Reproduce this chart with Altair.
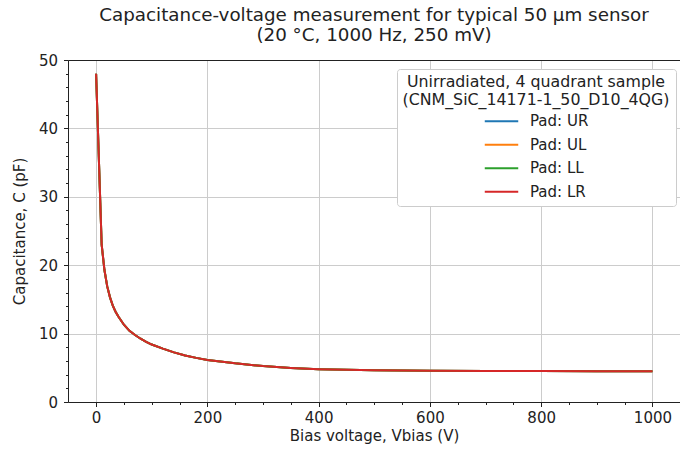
import altair as alt
import pandas as pd

# ---------------- data ----------------
voltage = [0, 10, 15, 20, 25, 30, 35, 40, 50, 60, 70, 80, 90, 100, 120, 140,
           160, 180, 200, 250, 300, 350, 400, 450, 500, 600, 700, 800, 900, 1000]
cap_ur = [48.0, 23.0, 19.3, 16.9, 15.3, 14.1, 13.2, 12.5, 11.3, 10.4, 9.8, 9.25,
          8.8, 8.4, 7.8, 7.25, 6.8, 6.45, 6.15, 5.65, 5.25, 4.98, 4.8, 4.7,
          4.64, 4.58, 4.55, 4.53, 4.5, 4.48]
cap_ul = [48.0, 23.0, 19.3, 16.9, 15.3, 14.1, 13.2, 12.5, 11.3, 10.4, 9.8, 9.25,
          8.8, 8.4, 7.8, 7.25, 6.8, 6.45, 6.15, 5.65, 5.25, 4.98, 4.8, 4.7,
          4.64, 4.58, 4.55, 4.53, 4.5, 4.48]
cap_ll = [48.0, 23.0, 19.3, 16.9, 15.3, 14.1, 13.2, 12.5, 11.3, 10.4, 9.8, 9.25,
          8.8, 8.4, 7.8, 7.25, 6.8, 6.45, 6.15, 5.65, 5.25, 4.98, 4.8, 4.7,
          4.64, 4.58, 4.55, 4.53, 4.5, 4.48]
cap_lr = [48.0, 23.0, 19.3, 16.9, 15.3, 14.1, 13.2, 12.5, 11.3, 10.4, 9.8, 9.25,
          8.8, 8.4, 7.8, 7.25, 6.8, 6.45, 6.15, 5.65, 5.25, 4.98, 4.8, 4.7,
          4.64, 4.58, 4.55, 4.53, 4.5, 4.48]
pads = ["Pad: UR", "Pad: UL", "Pad: LL", "Pad: LR"]
pad_colors = ["#1f77b4", "#ff7f0e", "#2ca02c", "#d62728"]
x_tick_values = list(range(0, 1001, 50))
y_tick_values = list(range(0, 51, 2))

rows = []
for pad, caps in zip(pads, [cap_ur, cap_ul, cap_ll, cap_lr]):
    for v, c in zip(voltage, caps):
        rows.append({"pad": pad, "V": v, "C": c})
df = pd.DataFrame(rows)

FONT = "DejaVu Sans"
INK = "#222222"
GRID = "#cccccc"

x_scale = alt.Scale(domain=[-50.5, 1049.5], nice=False, zero=False)
y_scale = alt.Scale(domain=[0, 50], nice=False, zero=False)

x_axis = alt.Axis(
    orient="bottom",
    values=x_tick_values,
    format="d",
    labelExpr="datum.value % 200 === 0 ? datum.label : ''",
    tickSize={"condition": {"test": "datum.value % 200 === 0", "value": 4.5}, "value": 2.5},
    gridOpacity={"condition": {"test": "datum.value % 200 === 0", "value": 1}, "value": 0},
    grid=True, gridColor=GRID, gridWidth=1,
    tickColor=INK, domainColor=INK,
    labelFont=FONT, labelFontSize=15, labelColor=INK,
    labelPadding=4, labelFlush=False, labelOverlap=False,
    title="Bias voltage, Vbias (V)",
    titleFont=FONT, titleFontSize=15, titleFontWeight="normal", titleColor=INK,
    titlePadding=3,
)
y_axis = alt.Axis(
    orient="left",
    values=y_tick_values,
    format="d",
    labelExpr="datum.value % 10 === 0 ? datum.label : ''",
    tickSize={"condition": {"test": "datum.value % 10 === 0", "value": 4.5}, "value": 2.5},
    gridOpacity={"condition": {"test": "datum.value % 10 === 0", "value": 1}, "value": 0},
    grid=True, gridColor=GRID, gridWidth=1,
    tickColor=INK, domainColor=INK,
    labelFont=FONT, labelFontSize=15, labelColor=INK,
    labelPadding=6, labelFlush=False, labelOverlap=False,
    title="Capacitance, C (pF)",
    titleFont=FONT, titleFontSize=15, titleFontWeight="normal", titleColor=INK,
    titlePadding=11,
)

legend = alt.Legend(
    orient="none", legendX=329, legendY=9,
    title=["Unirradiated, 4 quadrant sample", "(CNM_SiC_14171-1_50_D10_4QG)"],
    titleFont=FONT, titleFontSize=15.8, titleFontWeight="normal", titleColor=INK,
    titleAnchor="middle", titleAlign="center", titleLineHeight=18, titlePadding=3,
    titleLimit=400, labelLimit=300,
    labelFont=FONT, labelFontSize=15, labelColor=INK,
    symbolType="M-2,0H2", symbolSize=280, symbolStrokeWidth=2,
    symbolOffset=8, labelOffset=19,
    rowPadding=5.5,
    fillColor="white", strokeColor="#cccccc", cornerRadius=3, padding=6,
    direction="vertical",
)

lines = alt.Chart(df).mark_line(strokeWidth=2).encode(
    x=alt.X("V:Q", scale=x_scale, axis=x_axis),
    y=alt.Y("C:Q", scale=y_scale, axis=y_axis),
    color=alt.Color("pad:N", scale=alt.Scale(domain=pads, range=pad_colors),
                    sort=pads, legend=legend),
)

# invisible layer that only carries the top spine (x axis drawn at the top)
top_spine = alt.Chart(df).mark_rule(strokeOpacity=0).encode(
    x=alt.X("V:Q", scale=x_scale,
            axis=alt.Axis(orient="top", labels=False, ticks=False, grid=False,
                          domainColor=INK, title=None)),
)

chart = alt.layer(lines, top_spine).resolve_axis(x="independent").properties(
    width=612,
    height=342,
    autosize=alt.AutoSizeParams(type="none"),
    padding={"left": 68, "top": 60, "right": 0, "bottom": 49},
    title=alt.TitleParams(
        text=["Capacitance-voltage measurement for typical 50 µm sensor",
              "(20 °C, 1000 Hz, 250 mV)"],
        font=FONT, fontSize=18.3, fontWeight="normal", color=INK,
        anchor="middle", lineHeight=20, offset=8,
    ),
).configure_view(stroke=None).configure(background="white")

chart.save("out.html", embed_options={"renderer": "svg", "actions": False})
